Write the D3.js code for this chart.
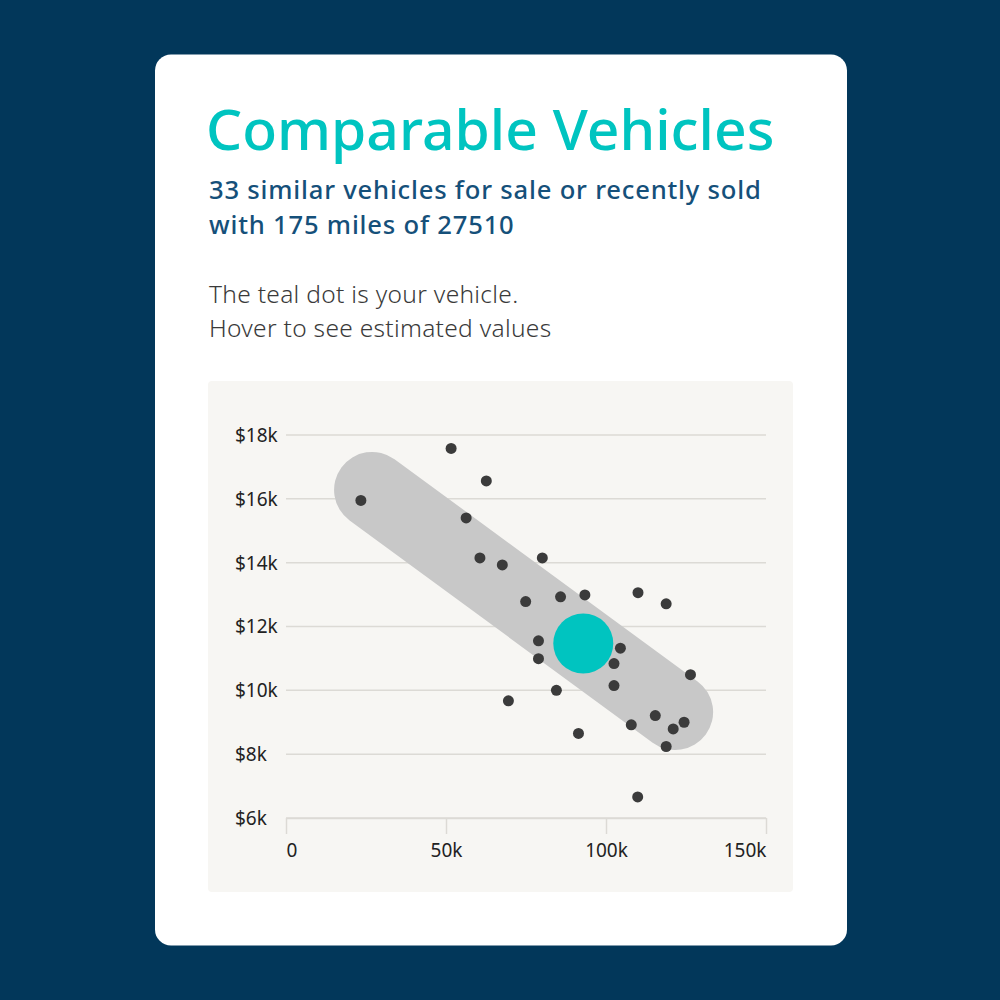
<!DOCTYPE html>
<html>
<head>
<meta charset="utf-8">
<script src="https://cdn.jsdelivr.net/npm/d3@7"></script>
<style>
  html, body { margin: 0; padding: 0; background: #02375a; }
  svg { display: block; }
</style>
</head>
<body>
<svg id="chart" width="1000" height="1000"></svg>
<script>
// ---- Data ----
const titleText = "Comparable Vehicles";
const subtitleLines = ["33 similar vehicles for sale or recently sold", "with 175 miles of 27510"];
const noteLines = ["The teal dot is your vehicle.", "Hover to see estimated values"];

// comparable vehicles: mileage, price
const mileage = [23400, 51600, 62600, 56300, 60600, 67600, 80100, 74900, 85800, 93400, 110000, 118800,
                 78900, 78900, 104500, 102500, 126400, 102500, 84500, 69500, 107900, 115400, 124400, 121000, 118800, 91400, 109900];
const price   = [15950, 17580, 16560, 15400, 14150, 13930, 14150, 12780, 12930, 12990, 13060, 12710,
                 11550, 10990, 11320, 10840, 10490, 10150, 10000,  9670,  8920,  9210,  9000,  8790,  8240,  8650,  6660];

// your vehicle
const yourMileage = 92900;
const yourPrice = 11470;

// trend band endpoints (mileage, price)
const bandMileage = [26900, 121600];
const bandPrice = [16280, 9320];

const xTicks = [0, 50000, 100000, 150000];
const xTickLabels = ["0", "50k", "100k", "150k"];
const yTicks = [6000, 8000, 10000, 12000, 14000, 16000, 18000];
const yTickLabels = ["$6k", "$8k", "$10k", "$12k", "$14k", "$16k", "$18k"];

// ---- Drawing ----
const svg = d3.select("#chart");
const font = "'Noto Sans', sans-serif";

svg.append("rect").attr("width", 1000).attr("height", 1000).attr("fill", "#02375a");
svg.append("rect").attr("x", 155).attr("y", 54.5).attr("width", 692).attr("height", 891)
  .attr("rx", 16).attr("fill", "#ffffff");
svg.append("rect").attr("x", 208).attr("y", 381).attr("width", 585).attr("height", 511)
  .attr("rx", 4).attr("fill", "#f7f6f3");

svg.append("text").attr("x", 206).attr("y", 150)
  .attr("font-family", font).attr("font-size", 57).attr("font-weight", 500)
  .attr("fill", "#00c4c0").text(titleText);

svg.selectAll("text.sub").data(subtitleLines).join("text").attr("class", "sub")
  .attr("x", 209).attr("y", (d, i) => 199 + i * 35)
  .attr("font-family", font).attr("font-size", 25.6).attr("font-weight", 500)
  .attr("letter-spacing", 0.8)
  .attr("fill", "#15507a").text(d => d);

svg.selectAll("text.note").data(noteLines).join("text").attr("class", "note")
  .attr("x", 209).attr("y", (d, i) => 303 + i * 34)
  .attr("font-family", font).attr("font-size", 24.5).attr("font-weight", 300)
  .attr("letter-spacing", 0.3)
  .attr("fill", "#3a3a3a").text(d => d);

const x = d3.scaleLinear().domain([0, 150000]).range([286, 766]);
const y = d3.scaleLinear().domain([6000, 18000]).range([818, 435]);

// gridlines
svg.append("g").selectAll("line").data(yTicks).join("line")
  .attr("x1", 286).attr("x2", 766)
  .attr("y1", d => y(d)).attr("y2", d => y(d))
  .attr("stroke", "#dcdad5").attr("stroke-width", 1.5);

// y labels
svg.append("g").selectAll("text").data(yTicks).join("text")
  .attr("x", 235).attr("y", d => y(d)).attr("dy", "0.36em")
  .attr("font-family", font).attr("font-size", 19).attr("fill", "#222")
  .text((d, i) => yTickLabels[i]);

// x axis
const xAxis = d3.axisBottom(x).tickValues(xTicks).tickFormat((d, i) => xTickLabels[i])
  .tickSize(16).tickSizeOuter(0).tickPadding(10);
const gx = svg.append("g").attr("transform", `translate(0,${y(6000)})`).call(xAxis);
gx.select(".domain").attr("stroke", "#dcdad5").attr("stroke-width", 1.5);
gx.selectAll(".tick line").attr("stroke", "#dcdad5").attr("stroke-width", 1.5);
gx.selectAll(".tick text").attr("font-family", font).attr("font-size", 19).attr("fill", "#222")
  .attr("text-anchor", (d, i) => i === 0 ? "start" : (i === xTicks.length - 1 ? "end" : "middle"));

// band
svg.append("line")
  .attr("x1", x(bandMileage[0])).attr("y1", y(bandPrice[0]))
  .attr("x2", x(bandMileage[1])).attr("y2", y(bandPrice[1]))
  .attr("stroke", "#c8c8c8").attr("stroke-width", 76).attr("stroke-linecap", "round");

// dots
svg.append("g").selectAll("circle").data(mileage).join("circle")
  .attr("cx", d => x(d)).attr("cy", (d, i) => y(price[i])).attr("r", 5.5)
  .attr("fill", "#3b3b3b");

// your vehicle
svg.append("circle").attr("cx", x(yourMileage)).attr("cy", y(yourPrice)).attr("r", 30)
  .attr("fill", "#00c4c0");
</script>
</body>
</html>
